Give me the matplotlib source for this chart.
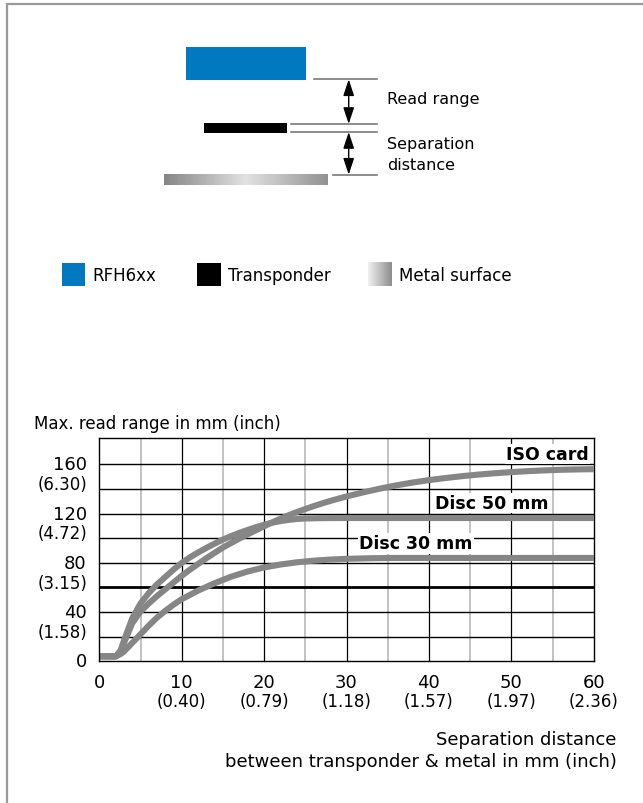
import numpy as np
import matplotlib
matplotlib.use('Agg')
import matplotlib.pyplot as plt
from matplotlib.colors import LinearSegmentedColormap

plt.rcParams['font.family'] = ['DejaVu Sans']

# curve data, separation distance in mm -> max. read range in mm
iso_x = [0, 2.0, 2.6, 3.0, 3.5, 4.0, 5, 6, 7, 8, 9, 10, 11, 12, 13, 14, 15, 16, 17, 18, 19, 20,
         21, 22, 23, 24, 25, 26, 27, 28, 29, 30, 32, 34, 36, 38, 40, 42, 44, 46, 48, 50,
         52, 54, 56, 58, 60]
iso_y = [4, 4, 8, 15, 23, 31, 40.5, 47, 53, 58.5, 64, 69.5, 74.5, 79.2, 83.8, 88.2, 92.5, 96.2,
         99.8, 103.2, 106.5, 109.8, 113, 116, 118.8, 121.4, 123.8, 126.1, 128.3, 130.3, 132.2, 134,
         137.3, 140.3, 143, 145.3, 147.3, 149, 150.5, 151.8, 152.9, 153.8, 154.6, 155.2, 155.7,
         156, 156.2]

disc50_x = [0, 2.0, 2.6, 3.0, 3.5, 4.0, 5, 6, 7, 8, 9, 10, 11, 12, 13, 14, 15, 16, 17, 18, 19, 20,
            21, 22, 23, 24, 25, 27, 30, 40, 60]
disc50_y = [4, 4, 9, 17, 26, 35, 47, 55.5, 62.5, 68.5, 74.5, 80, 84.5, 88.5, 92.2, 95.7, 99, 101.8,
            104.4, 106.8, 109, 111, 112.7, 114, 115, 115.7, 116.1, 116.4, 116.5, 116.5, 116.5]

disc30_x = [0, 2.0, 2.6, 3, 4, 5, 6, 7, 8, 9, 10, 12, 14, 16, 18, 20, 22, 24, 26, 28, 30, 33, 36,
            40, 60]
disc30_y = [4, 4, 6, 8, 15, 22, 29, 35.5, 41, 46, 50.5, 57.5, 63.5, 68.8, 73, 76.3, 78.7, 80.5,
            81.8, 82.7, 83.3, 83.8, 84, 84, 84]

curve_labels = ['ISO card', 'Disc 50 mm', 'Disc 30 mm']

x_ticks = [0, 10, 20, 30, 40, 50, 60]
x_inch = ['', '(0.40)', '(0.79)', '(1.18)', '(1.57)', '(1.97)', '(2.36)']
y_ticks = [0, 40, 80, 120, 160]
y_inch = ['', '(1.58)', '(3.15)', '(4.72)', '(6.30)']

legend_items = ['RFH6xx', 'Transponder', 'Metal surface']

W, H = 643, 804
fig = plt.figure(figsize=(W / 100, H / 100), dpi=100)

# background axes in pixel coords for the diagram part
bg = fig.add_axes([0, 0, 1, 1])
bg.set_xlim(0, W)
bg.set_ylim(H, 0)
bg.axis('off')

# page frame (top + left)
bg.plot([6.7, 6.7, W], [H, 4.7, 4.7], color='#9a9a9a', lw=1.6, solid_joinstyle='miter')

blue = '#0079c1'
metal_cmap = LinearSegmentedColormap.from_list('metal', ['#858585', '#e2e2e2', '#929292'])
metal_legend_cmap = LinearSegmentedColormap.from_list('metal2', ['#f2f2f2', '#8c8c8c'])
grad = np.linspace(0, 1, 256).reshape(1, -1)

# reader, transponder, metal surface
bg.add_patch(plt.Rectangle((185.5, 48.3), 120.5, 32.4, color=blue, lw=0))
bg.add_patch(plt.Rectangle((204, 124.3), 82.7, 9.4, color='black', lw=0))
bg.imshow(grad, cmap=metal_cmap, extent=(164, 327.7, 185.7, 175), aspect='auto', zorder=2)

# reference lines and arrows
line_c = '#6e6e6e'
bg.plot([314, 377], [80.3, 80.3], color=line_c, lw=1.1)
bg.plot([291, 377], [125, 125], color=line_c, lw=1.1)
bg.plot([291, 377], [133, 133], color=line_c, lw=1.1)
bg.plot([333, 377], [175.7, 175.7], color=line_c, lw=1.1)
for y0, y1 in [(80.3, 125), (133, 175.7)]:
    bg.annotate('', xy=(348.7, y0), xytext=(348.7, y1),
                arrowprops=dict(arrowstyle='<|-|>,head_length=1.0,head_width=0.33',
                                color='black', lw=1, shrinkA=0, shrinkB=0))

bg.text(387, 99.3, 'Read range', fontsize=11.5, va='center', ha='left')
bg.text(387, 144.3, 'Separation', fontsize=11.5, va='center', ha='left')
bg.text(387, 165.5, 'distance', fontsize=11.5, va='center', ha='left')

# legend
bg.add_patch(plt.Rectangle((62, 264), 23.3, 23.3, color=blue, lw=0))
bg.add_patch(plt.Rectangle((197, 264), 24, 23.3, color='black', lw=0))
bg.imshow(grad, cmap=metal_legend_cmap, extent=(368.3, 391.7, 287.3, 264), aspect='auto', zorder=2)
for xt, name in zip([92.7, 228.3, 399.3], legend_items):
    bg.text(xt, 276, name, fontsize=12, va='center', ha='left')

bg.text(34, 424, 'Max. read range in mm (inch)', fontsize=12, va='center', ha='left')
bg.text(616.7, 740, 'Separation distance', fontsize=13, va='center', ha='right')
bg.text(616.7, 761.7, 'between transponder & metal in mm (inch)', fontsize=13, va='center', ha='right')

# chart
x0, x1, y_top, y_bot = 99.3, 593.7, 439.3, 662.3
ax = fig.add_axes([x0 / W, 1 - y_bot / H, (x1 - x0) / W, (y_bot - y_top) / H])
ax.set_xlim(0, 60)
ax.set_ylim(0, 181.3)
ax.set_xticks([])
ax.set_yticks([])
for s in ax.spines.values():
    s.set_linewidth(1.0)
    s.set_zorder(5)

for xv in range(5, 60, 5):
    if xv % 10 == 0:
        ax.axvline(xv, color='black', lw=0.9, zorder=1)
    else:
        ax.axvline(xv, color='#bdbdbd', lw=1.3, zorder=1)
for yv in range(20, 180, 20):
    ax.axhline(yv, color='black', lw=2.0 if yv == 60 else 1.0, zorder=1)

gray = '#868686'
for xs, ys in [(disc30_x, disc30_y), (iso_x, iso_y), (disc50_x, disc50_y)]:
    ax.plot(xs, ys, color=gray, lw=4.4, solid_capstyle='butt', solid_joinstyle='round', zorder=3)

box = dict(facecolor='white', edgecolor='none', pad=1.0)
ax.text(59.4, 168.5, curve_labels[0], fontsize=12.5, fontweight='bold', ha='right', va='center', bbox=box, zorder=4)
ax.text(47.6, 128.7, curve_labels[1], fontsize=12.5, fontweight='bold', ha='center', va='center', bbox=box, zorder=4)
ax.text(38.4, 96, curve_labels[2], fontsize=12.5, fontweight='bold', ha='center', va='center', bbox=box, zorder=4)

for xv, lab in zip(x_ticks, x_inch):
    ax.annotate(str(xv), xy=(xv, 0), xycoords=('data', 'axes fraction'), xytext=(0, -15),
                textcoords='offset points', ha='center', va='center', fontsize=13)
    if lab:
        ax.annotate(lab, xy=(xv, 0), xycoords=('data', 'axes fraction'), xytext=(0, -28.4),
                    textcoords='offset points', ha='center', va='center', fontsize=12)
for yv, lab in zip(y_ticks, y_inch):
    ax.annotate(str(yv), xy=(0, yv), xycoords=('axes fraction', 'data'), xytext=(-9, 0),
                textcoords='offset points', ha='right', va='center', fontsize=13)
    if lab:
        ax.annotate(lab, xy=(0, yv), xycoords=('axes fraction', 'data'), xytext=(-8.3, -14.2),
                    textcoords='offset points', ha='right', va='center', fontsize=12)

fig.savefig('out.png', dpi=100)
